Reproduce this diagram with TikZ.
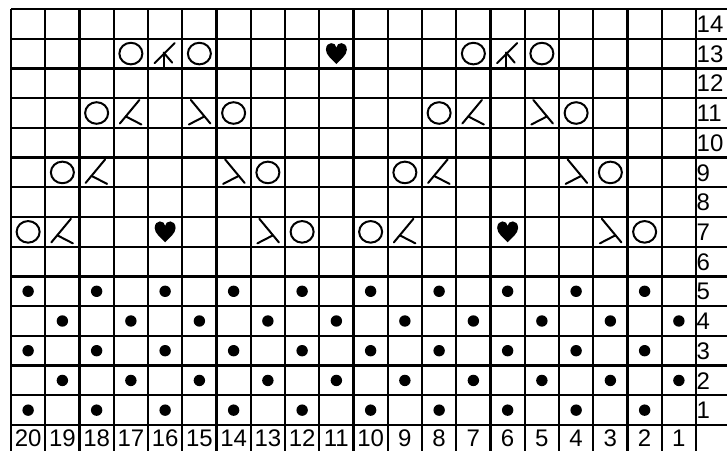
\documentclass[tikz,border=0pt]{standalone}
\usepackage{fontspec}
\setmainfont{Liberation Sans}
\begin{document}
\begin{tikzpicture}[x=1pt,y=-1pt,
  grid/.style={line width=2.3pt},
  sym/.style={line width=2pt,line cap=round},
  numlbl/.style={inner sep=0pt,font=\fontsize{24}{28}\selectfont},
  yo/.pic={\draw[sym] (0,0) ellipse (11.5 and 10.8);},
  ktog/.pic={\draw[sym] (8.5,-13) -- (-11,10.5); \draw[sym] (-5,3.5) -- (10.5,11.5);},
  sskd/.pic={\draw[sym] (-8.5,-13) -- (11,10.5); \draw[sym] (5,3.5) -- (-10.5,11.5);},
  cddec/.pic={\draw[sym] (9.5,-10.5) -- (-10.5,9.5); \draw[sym] (-1.5,-1) -- (-1.5,15); \draw[sym] (-1.5,-1) -- (7,9);},
  hrt/.pic={\fill[scale=1.1] (0,9.5) .. controls (-4,5) and (-9.5,1.5) .. (-9.5,-3.5) .. controls (-9.5,-7.5) and (-7,-9.5) .. (-4.8,-9.5) .. controls (-2.4,-9.5) and (0,-8) .. (0,-5.5) .. controls (0,-8) and (2.4,-9.5) .. (4.8,-9.5) .. controls (7,-9.5) and (9.5,-7.5) .. (9.5,-3.5) .. controls (9.5,1.5) and (4,5) .. (0,9.5) -- cycle;},
  pdot/.pic={\fill (0,0) circle (5.7);}
]
\useasboundingbox (0,0) rectangle (727,450);
\clip (0,0) rectangle (727,450);
\fill[white] (0,0) rectangle (727,450);
\def\cw{34.25}
\def\rh{29.714}
% grid
\foreach \i in {0,...,21} \draw[grid] ({11+\i*\cw},9) -- ({11+\i*\cw},460);
\foreach \j in {0,...,15} \draw[grid] (11,{9+\j*\rh}) -- (740,{9+\j*\rh});
% row labels
\foreach \r in {1,...,14}
  \node[numlbl,anchor=base west] (row\r) at (696.5,{9+(14-\r+0.5)*\rh+8.6}) {\r};
% column labels
\foreach \c in {1,...,20}
  \node[numlbl,anchor=base] (col\c) at ({11+(20-\c+0.5)*\cw},446) {\c};
% helper: cell centre for (column, row)
\newcommand{\cellat}[3]{\pic at ({11+(20-#1+0.5)*\cw},{9+(14-#2+0.5)*\rh}) {#3};}
% purl dots
\foreach \r in {1,3,5} \foreach \c in {2,4,...,20} {\cellat{\c}{\r}{pdot}}
\foreach \r in {2,4} \foreach \c in {1,3,...,19} {\cellat{\c}{\r}{pdot}}
% row 7
\cellat{20}{7}{yo} \cellat{19}{7}{ktog} \cellat{16}{7}{hrt} \cellat{13}{7}{sskd} \cellat{12}{7}{yo}
\cellat{10}{7}{yo} \cellat{9}{7}{ktog} \cellat{6}{7}{hrt} \cellat{3}{7}{sskd} \cellat{2}{7}{yo}
% row 9
\cellat{19}{9}{yo} \cellat{18}{9}{ktog} \cellat{14}{9}{sskd} \cellat{13}{9}{yo}
\cellat{9}{9}{yo} \cellat{8}{9}{ktog} \cellat{4}{9}{sskd} \cellat{3}{9}{yo}
% row 11
\cellat{18}{11}{yo} \cellat{17}{11}{ktog} \cellat{15}{11}{sskd} \cellat{14}{11}{yo}
\cellat{8}{11}{yo} \cellat{7}{11}{ktog} \cellat{5}{11}{sskd} \cellat{4}{11}{yo}
% row 13
\cellat{17}{13}{yo} \cellat{16}{13}{cddec} \cellat{15}{13}{yo} \cellat{11}{13}{hrt}
\cellat{7}{13}{yo} \cellat{6}{13}{cddec} \cellat{5}{13}{yo}
\end{tikzpicture}
\end{document}
